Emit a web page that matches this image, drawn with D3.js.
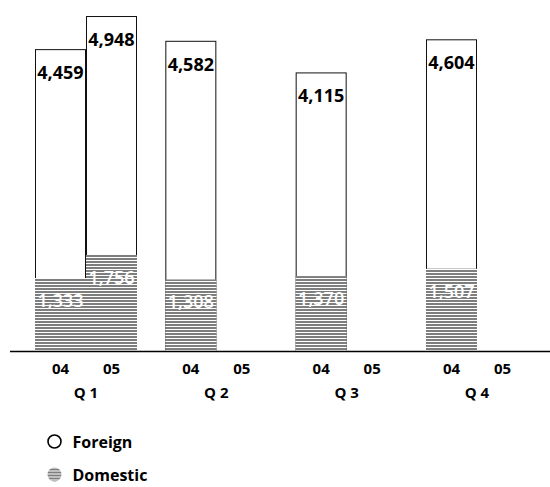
<!DOCTYPE html>
<html>
<head>
<meta charset="utf-8">
<script src="https://cdn.jsdelivr.net/npm/d3@7"></script>
<style>
  body { margin: 0; background: #fff; }
  #chart { width: 550px; height: 487px; }
  text { font-family: "Open Sans", sans-serif; }
</style>
</head>
<body>
<div id="chart"></div>
<script>
var quarters = ["Q 1", "Q 2", "Q 3", "Q 4"];
var years = ["04", "05"];
// foreign and domestic values, [quarter][year]; null = no bar
var foreign = [[4459, 4948], [4582, null], [4115, null], [4604, null]];
var domestic = [[1333, 1756], [1308, null], [1370, null], [1507, null]];
var legendLabels = ["Foreign", "Domestic"];

var width = 550, height = 487;
var baseline = 351;

var svg = d3.select("#chart")
    .append("svg")
    .attr("width", width)
    .attr("height", height);

// striped fill for domestic
var defs = svg.append("defs");
var pat = defs.append("pattern")
    .attr("id", "stripes")
    .attr("patternUnits", "userSpaceOnUse")
    .attr("width", 8)
    .attr("height", 3);
pat.append("rect").attr("width", 8).attr("height", 3).attr("fill", "#fff");
pat.append("rect").attr("width", 8).attr("height", 2).attr("fill", "#7e7e7e");

var x0 = d3.scaleBand()
    .domain(quarters)
    .range([35, 528])
    .paddingInner(0.2174)
    .paddingOuter(0);

var x1 = d3.scaleBand()
    .domain(years)
    .range([0, x0.bandwidth()]);

var yForeign = d3.scaleLinear().domain([0, 5000]).range([baseline, baseline - 338.5]);
var yDomestic = d3.scaleLinear().domain([0, 5000]).range([baseline, baseline - 273.5]);

var rows = [];
quarters.forEach(function(q, i) {
    years.forEach(function(y, j) {
        if (foreign[i][j] != null) {
            rows.push({ quarter: q, year: y, foreign: foreign[i][j], domestic: domestic[i][j] });
        }
    });
});

var bars = svg.append("g")
    .selectAll("g")
    .data(rows)
    .enter()
    .append("g")
    .attr("transform", function(d) { return "translate(" + (x0(d.quarter) + x1(d.year)) + ",0)"; });

bars.append("rect")
    .attr("x", 0.5)
    .attr("y", function(d) { return yForeign(d.foreign) + 0.5; })
    .attr("width", x1.bandwidth() - 1)
    .attr("height", function(d) { return baseline - yForeign(d.foreign); })
    .attr("fill", "#fff")
    .attr("stroke", "#111")
    .attr("stroke-width", 1);

bars.append("rect")
    .attr("x", 0)
    .attr("y", function(d) { return yDomestic(d.domestic); })
    .attr("width", x1.bandwidth())
    .attr("height", function(d) { return baseline - yDomestic(d.domestic); })
    .attr("fill", "url(#stripes)");

bars.append("text")
    .attr("x", x1.bandwidth() / 2)
    .attr("y", function(d) { return yForeign(d.foreign) + 30; })
    .attr("text-anchor", "middle")
    .attr("font-size", "18px")
    .attr("font-weight", "bold")
    .attr("fill", "#000")
    .text(function(d) { return d3.format(",")(d.foreign); });

bars.append("text")
    .attr("x", x1.bandwidth() / 2)
    .attr("y", function(d) { return yDomestic(d.domestic) + 29; })
    .attr("text-anchor", "middle")
    .attr("font-size", "18px")
    .attr("font-weight", 600)
    .attr("fill", "#fff")
    .text(function(d) { return d3.format(",")(d.domestic); });

// baseline
svg.append("line")
    .attr("x1", 10)
    .attr("x2", width)
    .attr("y1", baseline + 0.5)
    .attr("y2", baseline + 0.5)
    .attr("stroke", "#000")
    .attr("stroke-width", 1.5);

// year ticks and quarter labels
var groups = svg.append("g")
    .selectAll("g")
    .data(quarters)
    .enter()
    .append("g")
    .attr("transform", function(q) { return "translate(" + x0(q) + ",0)"; });

years.forEach(function(y) {
    groups.append("text")
        .attr("x", x1(y) + x1.bandwidth() / 2)
        .attr("y", 374)
        .attr("text-anchor", "middle")
        .attr("font-size", "15px")
        .attr("font-weight", "bold")
        .text(y);
});

groups.append("text")
    .attr("x", x0.bandwidth() / 2)
    .attr("y", 398)
    .attr("text-anchor", "middle")
    .attr("font-size", "15px")
    .attr("font-weight", "bold")
    .text(function(q) { return q; });

// legend
var legend = svg.append("g")
    .selectAll("g")
    .data(legendLabels)
    .enter()
    .append("g")
    .attr("transform", function(d, i) { return "translate(54.5," + (441.5 + i * 33) + ")"; });

legend.append("circle")
    .attr("r", function(d, i) { return i == 0 ? 6.5 : 7; })
    .attr("fill", function(d, i) { return i == 0 ? "#fff" : "url(#stripes)"; })
    .attr("stroke", function(d, i) { return i == 0 ? "#000" : "none"; })
    .attr("stroke-width", 1.6);

legend.append("text")
    .attr("x", 18)
    .attr("y", 6)
    .attr("font-size", "16px")
    .attr("font-weight", "bold")
    .text(function(d) { return d; });
</script>
</body>
</html>
